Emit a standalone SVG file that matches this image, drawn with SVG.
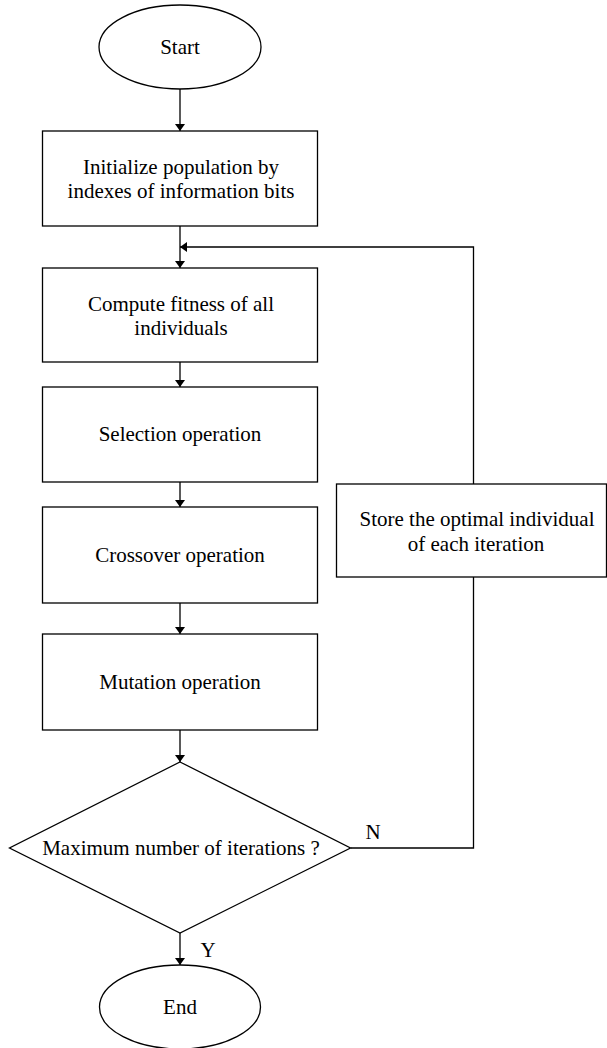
<svg xmlns="http://www.w3.org/2000/svg" width="607" height="1048" viewBox="0 0 607 1048" font-family="'Liberation Serif', 'Times New Roman', Times, serif">
<style>
.s{fill:#fff;stroke:#000;stroke-width:1.3}
.t{font-family:'Liberation Serif','Times New Roman',Times,serif;font-size:21px;fill:#000;text-anchor:middle}
.c{fill:none;stroke:#000;stroke-width:1.3}
</style>
<defs>
<marker id="ah" markerUnits="userSpaceOnUse" markerWidth="7" markerHeight="10" viewBox="0 0 7 10" refX="7" refY="5" orient="auto">
<path d="M0,0 L7,5 L0,10 z" fill="#000"/>
</marker>
</defs>
<rect width="607" height="1048" fill="#fff"/>
<g id="connectors">
<line class="c" x1="180" y1="89" x2="180" y2="131" marker-end="url(#ah)"/>
<line class="c" x1="180" y1="226" x2="180" y2="268" marker-end="url(#ah)"/>
<line class="c" x1="180" y1="362" x2="180" y2="387" marker-end="url(#ah)"/>
<line class="c" x1="180" y1="482" x2="180" y2="507" marker-end="url(#ah)"/>
<line class="c" x1="180" y1="603" x2="180" y2="634" marker-end="url(#ah)"/>
<line class="c" x1="180" y1="730" x2="180" y2="762" marker-end="url(#ah)"/>
<line class="c" x1="180" y1="933" x2="180" y2="965" marker-end="url(#ah)"/>
<polyline class="c" points="350.5,848 473.5,848 473.5,577"/>
<polyline class="c" points="473.5,484 473.5,247 180,247" marker-end="url(#ah)"/>
<text class="t" x="373" y="839">N</text>
<text class="t" x="208" y="957">Y</text>
</g>
<g id="start">
<ellipse class="s" cx="180" cy="47" rx="81" ry="42"/>
<text class="t" x="180" y="54">Start</text>
</g>
<g id="init">
<rect class="s" x="42.5" y="131" width="275" height="95"/>
<text class="t" x="181" y="174">Initialize population by</text>
<text class="t" x="181" y="198">indexes of information bits</text>
</g>
<g id="fitness">
<rect class="s" x="42.5" y="268" width="275" height="94"/>
<text class="t" x="181" y="311">Compute fitness of all</text>
<text class="t" x="181" y="335">individuals</text>
</g>
<g id="selection">
<rect class="s" x="42.5" y="387" width="275" height="95"/>
<text class="t" x="180" y="441">Selection operation</text>
</g>
<g id="crossover">
<rect class="s" x="42.5" y="507" width="275" height="96"/>
<text class="t" x="180" y="562">Crossover operation</text>
</g>
<g id="mutation">
<rect class="s" x="42.5" y="634" width="275" height="96"/>
<text class="t" x="180" y="689">Mutation operation</text>
</g>
<g id="decision">
<polygon class="s" points="180,762 350.5,848 180,933 9.5,848"/>
<text class="t" x="181" y="855">Maximum number of iterations ?</text>
</g>
<g id="end">
<ellipse class="s" cx="180" cy="1007" rx="80.5" ry="42"/>
<text class="t" x="180" y="1014">End</text>
</g>
<g id="store">
<rect class="s" x="336.5" y="484" width="270" height="93"/>
<text class="t" x="477" y="526">Store the optimal individual</text>
<text class="t" x="476" y="551">of each iteration</text>
</g>
</svg>
